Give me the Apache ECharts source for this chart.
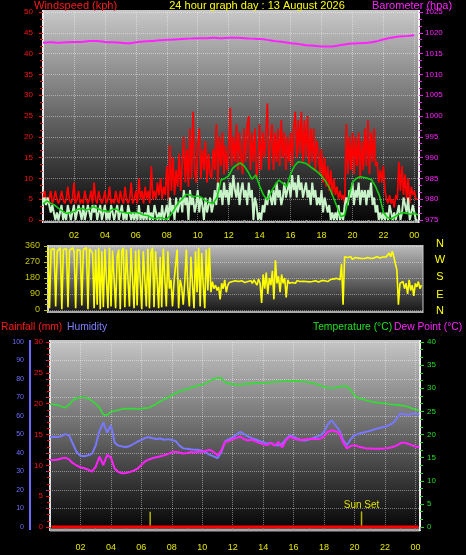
<!DOCTYPE html>
<html><head><meta charset="utf-8">
<script src="https://cdn.jsdelivr.net/npm/echarts@6/dist/echarts.min.js"></script>
<style>html,body{margin:0;padding:0;background:#000;}#c{width:466px;height:555px;}</style>
</head><body><div id="c"></div>
<script>
// ---------- data ----------
const TITLE = '24 hour graph day : 13 August 2026';
const WIND_STEP = 0.1;   // hours between wind samples
const GUST = [
5,5,7,5,4,5,7,4,5,7, 5,4,5,7,5,4,5,8,5,4, 5,9,4,5,7,4,5,4,7,5, 4,5,7,4,9,5,4,7,5,4,
5,7,4,5,8,4,5,4,7,5, 4,7,5,4,8,5,4,5,9,4, 5,7,4,10,5,7,4,8,5,7, 4,13,5,7,5,9,6,10,5,8,
6,13,5,18,7,15,6,12,8,16, 7,14,20,9,17,8,22,10,26,12, 9,18,22,10,17,12,19,9,16,11, 10,17,12,23,9,20,13,21,11,18,
12,17,27,13,20,14,23,12,21,15, 11,22,14,23,25,12,21,14,22,10, 13,23,12,21,15,20,28,12,19,23, 12,21,14,22,13,24,15,21,12,20,
14,21,13,22,26,15,24,16,26,14, 24,15,25,13,22,14,22,12,19,16, 11,17,9,15,8,13,7,12,6,10, 6,8,5,7,5,6,4,23,11,20,
12,21,11,20,13,21,10,19,12,22, 13,24,11,21,14,22,13,14,9,12, 9,13,7,5,4,6,4,5,3,6, 5,14,7,13,6,11,5,10,4,8,
6,7,5];
const SPEED = [
5.4,3.6,5.4,3.6,5.4,3.6,1.8,3.6,1.8,0, 1.8,0,1.8,3.6,0,1.8,0,3.6,1.8,0, 1.8,3.6,0,1.8,3.6,1.8,0,3.6,0,1.8, 3.6,1.8,0,3.6,1.8,3.6,0,1.8,3.6,0,
1.8,3.6,0,1.8,0,3.6,1.8,0,1.8,3.6, 0,1.8,3.6,0,1.8,0,3.6,1.8,0,1.8, 0,1.8,0,3.6,0,1.8,0,1.8,0,3.6, 0,1.8,0,3.6,1.8,0,1.8,0,3.6,0,
1.8,3.6,0,5.4,1.8,3.6,0,5.4,1.8,3.6, 5.4,1.8,7.2,3.6,5.4,0,7.2,3.6,5.4,1.8, 3.6,7.2,1.8,5.4,3.6,0,5.4,1.8,3.6,5.4, 1.8,3.6,7.2,3.6,9,5.4,7.2,3.6,9,5.4,
7.2,3.6,9,5.4,10.8,7.2,5.4,9,3.6,7.2, 9,5.4,7.2,3.6,9,5.4,7.2,0,5.4,3.6, 0,1.8,0,3.6,1.8,5.4,3.6,7.2,5.4,3.6, 7.2,3.6,9,5.4,7.2,3.6,5.4,9,5.4,7.2,
9,5.4,10.8,7.2,9,5.4,10.8,7.2,9,5.4, 7.2,9,5.4,7.2,3.6,9,5.4,7.2,3.6,5.4, 3.6,7.2,1.8,5.4,3.6,1.8,3.6,0,1.8,0, 1.8,0,3.6,0,1.8,0,3.6,5.4,3.6,7.2,
5.4,9,3.6,7.2,5.4,9,3.6,7.2,5.4,7.2, 3.6,7.2,5.4,9,3.6,5.4,1.8,3.6,0,1.8, 0,1.8,0,1.8,0,3.6,1.8,0,1.8,0, 1.8,3.6,0,1.8,5.4,3.6,1.8,5.4,0,1.8,
3.6,1.8,0];
const AVG_STEP = 0.25;
const AVG = [
3.8,4.6,4.0,3.6, 2.8,2.2,1.6,1.8, 2.0,2.6,2.8,2.4, 2.6,3.2,2.8,2.4, 2.2,2.0,2.6,2.6, 2.0,1.8,1.6,1.8,
1.8,1.6,1.2,1.1, 0.6,0.3,0.6,0.4, 0.2,1.2,2.6,4.2, 5.0,6.2,6.0,5.6, 5.8,5.4,4.6,4.2, 4.0,5.4,9.6,10.0,
10.6,12.4,13.2,13.7, 13.0,11.6,9.8,10.8, 8.2,6.0,4.8,6.8, 8.4,9.6,8.8,8.0, 11.0,13.0,14.0,13.8, 13.6,12.9,12.2,11.5,
10.6,9.4,7.8,5.6, 3.2,0.8,1.2,5.2, 9.0,10.0,10.4,10.2, 10.0,9.6,8.0,5.8, 1.8,0.6,0.3,0.8, 1.4,1.8,1.6,1.4,
1.6,1.2];
const BARO_STEP = 0.5;
const BARO = [
1017.6,1017.7,1017.6,1017.7,1017.8,1017.8,1018.0,1018.0,1017.8,1017.7,1017.6,1017.5,
1017.7,1017.9,1018.0,1018.2,1018.3,1018.4,1018.5,1018.6,1018.7,1018.7,1018.8,1018.7,
1018.8,1018.8,1018.7,1018.6,1018.5,1018.3,1018.0,1017.8,1017.5,1017.3,1017.0,1016.9,
1016.7,1016.7,1016.9,1017.2,1017.4,1017.5,1017.6,1017.9,1018.4,1018.8,1019.1,1019.2,1019.4];
const DIR_STEP = 0.1;
const DIR = [
350,10,340,335,345,20,330,340,350,5, 340,330,345,15,335,340,350,330,10,340, 345,335,25,340,330,350,5,345,335,320, 10,340,30,350,5,330,15,345,340,10,
350,20,335,345,10,300,340,5,330,350, 15,340,330,20,350,345,10,335,25,340, 350,5,330,340,20,345,10,320,350,15, 330,340,10,300,15,345,180,20,330,120,
170,20,160,150,340,10,170,130,30,160, 340,120,20,300,150,10,330,100,350,20, 320,140,10,340,110,350,100,160,120,140, 110,130,60,150,120,170,100,140,155,150,
160,150,165,155,160,150,165,160,155,165, 160,155,165,150,170,160,140,175,150,40, 200,120,210,90,180,140,220,60,280,150, 190,100,200,150,180,70,170,150,160,155,
160,150,165,155,160,158,162,155,160,165, 158,162,160,155,165,160,158,162,165,160, 165,170,160,168,172,165,175,170,178,180, 170,260,30,300,310,295,290,300,285,290,
295,288,292,285,290,295,290,288,295,292, 290,295,292,298,300,295,292,300,298,295, 298,300,320,300,330,300,260,225,30,150, 140,160,120,150,90,170,110,140,80,150,
130,160,120,140];
const TH_STEP = 0.25;
const TEMP = [
26.6,26.5,26.4,26.0, 25.8,26.4,27.4,27.9, 28.0,28.0,27.8,27.3, 26.6,25.8,24.3,24.2, 24.9,25.1,25.3,25.5, 25.6,25.6,25.6,25.5,
25.6,25.7,25.8,26.2, 26.7,27.2,27.6,28.0, 28.5,28.9,29.3,29.6, 29.8,30.1,30.4,30.6, 30.8,31.1,31.6,32.0, 32.2,32.2,31.3,31.0,
30.9,30.8,30.8,30.9, 31.0,31.0,31.1,31.2, 31.2,31.2,31.3,31.4, 31.4,31.5,31.5,31.6, 31.6,31.6,31.5,31.4, 31.3,31.1,30.9,30.6,
30.3,30.1,30.0,30.1, 30.3,30.5,30.4,29.6, 28.4,27.9,27.7,27.4, 27.2,27.0,26.9,26.8, 26.7,26.6,26.5,26.4, 26.3,26.2,26.0,25.7,
25.4,25.2];
const HUM = [
48.5,48.8,48.6,49.2, 50.2,49.5,45.0,40.5, 38.5,38.2,38.8,39.5, 44.0,52.0,56.5,51.0, 55.0,45.5,44.0,43.5, 43.2,43.8,45.0,46.2,
47.0,48.2,48.5,48.0, 47.6,47.8,47.2,47.5, 47.0,46.5,44.0,42.5, 42.3,42.0,41.8,41.7, 41.2,40.2,39.0,38.2, 37.2,40.5,46.3,47.5,
48.5,50.0,51.4,50.2, 49.0,48.0,47.3,46.5, 45.8,45.0,45.5,44.3, 44.1,45.0,47.5,49.5, 48.8,47.8,46.9,46.8, 47.3,48.0,48.8,49.5,
51.5,55.5,57.7,55.0, 52.3,47.0,44.2,47.5, 49.6,50.3,51.0,51.4, 52.0,52.6,53.2,53.8, 54.2,55.0,56.0,58.5, 61.3,61.0,60.5,61.3,
61.2,61.0];
const DEW = [
14.5,14.5,14.6,14.8, 15.0,14.6,13.8,13.3, 12.9,12.7,12.4,12.0, 13.0,15.2,13.4,15.6, 15.0,12.6,11.9,11.6, 11.7,11.9,12.2,12.6,
13.4,14.2,14.6,14.9, 15.1,15.3,15.5,15.8, 16.1,16.3,16.1,15.9, 16.0,16.2,16.1,16.3, 16.2,16.5,16.7,16.2, 15.5,16.5,18.4,18.6,
19.0,19.3,19.5,19.0, 18.7,18.9,18.5,18.2, 17.9,17.7,18.2,17.6, 18.4,17.2,18.8,19.5, 19.2,18.9,18.8,18.9, 19.0,19.1,19.0,19.1,
19.6,20.6,20.9,20.7, 20.3,18.3,17.0,17.5, 17.7,17.4,17.2,17.0, 17.0,16.9,16.9,16.9, 17.0,17.1,17.3,17.6, 18.1,18.3,18.0,17.7,
17.4,17.3];
const RAIN_TIMES = [0.1, 24.2];
const RAIN = [0, 0];
const SUN_RISE = 6.58, SUN_SET = 20.46;
const COMPASS = ['N','W','S','E','N'];

// ---------- helpers ----------
const pairs = (arr, step) => arr.map((v, i) => [+(i * step).toFixed(3), v]);
const hourFmt = v => { const r = Math.round(v); if (v <= 0 || Math.abs(v - r) > 1e-6 || r % 2) return ''; const h = r % 24; return (h < 10 ? '0' : '') + h; };
const plainFmt = v => String(v);
const FONT = '"Liberation Sans", Arial, sans-serif';
const grad = (a, b) => ({type:'linear', x:0, y:0, x2:0, y2:1, colorStops:[{offset:0,color:a},{offset:1,color:b}]});
const dotted = {show:true, lineStyle:{color:'rgba(255,255,255,0.42)', type:'dotted', width:1}};

function xAx(grid, max, labels, margin) {
  return {type:'value', gridIndex:grid, min:0, max:max, interval:2,
    axisLine:{show:false},
    axisTick:{show:labels, length:3, lineStyle:{color:'#8c8c8c'}},
    minorTick:{show:labels, splitNumber:2, length:3, lineStyle:{color:'#8c8c8c'}},
    axisLabel:{show:labels, formatter:hourFmt, color:'#e6e600', fontSize:9, margin:margin, fontFamily:FONT},
    splitLine: labels ? dotted : {show:false}};
}
function yAx(o) {
  return Object.assign({type:'value', axisLine:{show:false},
    axisTick:{show:true, length:4, lineStyle:{color:o.color}},
    minorTick:{show:!!o.minor, splitNumber:o.minor||2, length:3, lineStyle:{color:o.color}},
    axisLabel:{color:o.color, fontSize:o.fs||8, margin:o.margin, fontFamily:FONT, formatter:plainFmt},
    splitLine: o.split ? dotted : {show:false}}, o.base);
}

const chart = echarts.init(document.getElementById('c'), null, {renderer:'canvas'});
const txt = (t, x, y, color, size, align) => ({type:'text', x:x, y:y, z:20,
  style:{text:t, fill:color, font:size + 'px ' + FONT, textAlign:align||'left', textVerticalAlign:'middle'}});
const hline = (x1, x2, y, c, w) => ({type:'line', z:-5, shape:{x1:x1, y1:y, x2:x2, y2:y}, style:{stroke:c, lineWidth:w}});
const vline = (x, y1, y2, c, w) => ({type:'line', z:-5, shape:{x1:x, y1:y1, x2:x, y2:y2}, style:{stroke:c, lineWidth:w}});

const graphics = [
  {type:'rect', z:-10, shape:{x:43, y:10, width:376, height:213}, style:{fill:grad('#c8c8c8', '#040404')}},
  {type:'rect', z:-10, shape:{x:48, y:245, width:375, height:68}, style:{fill:grad('#bcbcbc', '#141414')}},
  {type:'rect', z:-10, shape:{x:50, y:340, width:370, height:191}, style:{fill:grad('#c6c6c6', '#030303')}},
  vline(43, 10, 223, '#e8e8e8', 2), hline(43, 419, 222, '#b4b4b4', 2), vline(419, 10, 223, '#f2f2f2', 2),
  vline(48, 245, 313, '#d4d4d4', 2), hline(48, 423, 312, '#a8a8a8', 2), vline(423, 245, 313, '#c8c8c8', 1),
  vline(50, 340, 531, '#dadada', 2), hline(50, 420, 530, '#a8a8a8', 3), vline(420, 340, 531, '#f2f2f2', 2),
  vline(30, 340, 530, '#6a6aff', 2),
  txt('Windspeed (kph)', 34, 6, '#ff1a1a', 11),
  txt(TITLE, 257, 6, '#ffff00', 11, 'center'),
  txt('Barometer (hpa)', 372, 6, '#ff22ff', 11),
  txt('Rainfall (mm)', 1, 327, '#ff1a1a', 10.3),
  txt('Humidity', 67, 327, '#8080ff', 10.3),
  txt('Temperature (°C)', 313, 327, '#22e022', 10.3),
  txt('Dew Point (°C)', 394, 327, '#ff22ff', 10.3)
];
const compassY = [244, 260, 277, 295, 311];
COMPASS.forEach((c, i) => graphics.push(txt(c, 440, compassY[i], '#ffff00', 11, 'center')));

const option = {
  animation:false,
  backgroundColor:'#000',
  textStyle:{fontFamily:FONT},
  grid:[
    {left:43, top:12, width:376, height:208},
    {left:48, top:246, width:375, height:64},
    {left:50, top:342, width:370, height:185}
  ],
  xAxis:[ xAx(0, 24.3, true, 11), xAx(1, 24.4, false, 0), xAx(2, 24.3, true, 16) ],
  yAxis:[
    yAx({color:'#ff1010', margin:10, minor:3, split:true, base:{gridIndex:0, min:0, max:50, interval:5, position:'left'}}),
    yAx({color:'#ff22ff', margin:6, minor:3, base:{gridIndex:0, min:975, max:1025, interval:5, position:'right'}}),
    yAx({color:'#c4c400', margin:8, fs:9, minor:3, split:true, base:{gridIndex:1, min:0, max:360, interval:90, position:'left'}}),
    yAx({color:'#7070ff', margin:6, fs:7, split:true, base:{gridIndex:2, min:0, max:100, interval:10, position:'left', offset:20}}),
    yAx({color:'#ff1010', margin:7, minor:5, base:{gridIndex:2, min:0, max:30, interval:5, position:'left'}}),
    yAx({color:'#22dd22', margin:7, minor:3, base:{gridIndex:2, min:0, max:40, interval:5, position:'right'}})
  ],
  series:[
    {type:'line', name:'Gust', xAxisIndex:0, yAxisIndex:0, data:pairs(GUST, WIND_STEP), step:'start', showSymbol:false, lineStyle:{color:'#ff0000', width:1.7}},
    {type:'line', name:'Speed', xAxisIndex:0, yAxisIndex:0, data:pairs(SPEED, WIND_STEP), step:'start', showSymbol:false, lineStyle:{color:'#c8f2c8', width:2}},
    {type:'line', name:'Average', xAxisIndex:0, yAxisIndex:0, data:pairs(AVG, AVG_STEP), showSymbol:false, lineStyle:{color:'#10d010', width:1.6}},
    {type:'line', name:'Barometer', xAxisIndex:0, yAxisIndex:1, data:pairs(BARO, BARO_STEP), showSymbol:false, smooth:0.3, lineStyle:{color:'#ff22ff', width:2}},
    {type:'line', name:'Direction', xAxisIndex:1, yAxisIndex:2, data:pairs(DIR, DIR_STEP), showSymbol:false, lineStyle:{color:'#ffff00', width:1.6}},
    {type:'line', name:'Rainfall', xAxisIndex:2, yAxisIndex:4, data:RAIN_TIMES.map((t, i) => [t, RAIN[i]]), showSymbol:false, lineStyle:{color:'#ff0000', width:3}},
    {type:'line', name:'Humidity', xAxisIndex:2, yAxisIndex:3, data:pairs(HUM, TH_STEP), showSymbol:false, lineStyle:{color:'#7878ff', width:2}},
    {type:'line', name:'Temperature', xAxisIndex:2, yAxisIndex:5, data:pairs(TEMP, TH_STEP), showSymbol:false, lineStyle:{color:'#30e030', width:1.6}},
    {type:'line', name:'Dew Point', xAxisIndex:2, yAxisIndex:5, data:pairs(DEW, TH_STEP), showSymbol:false, lineStyle:{color:'#ff22ff', width:2}},
    {type:'line', name:'Sun Rise', xAxisIndex:2, yAxisIndex:5, data:[[SUN_RISE, 0.3], [SUN_RISE, 3.3]], showSymbol:false, lineStyle:{color:'#b4b400', width:1.5}},
    {type:'line', name:'Sun Set', xAxisIndex:2, yAxisIndex:5, data:[[SUN_SET, 0.3], [SUN_SET, 3.3]], showSymbol:false, lineStyle:{color:'#b4b400', width:1.5}},
    {type:'scatter', name:'Sun Set label', xAxisIndex:2, yAxisIndex:5, data:[[SUN_SET, 3.3]], symbolSize:1, itemStyle:{color:'#b4b400', opacity:1},
      label:{show:true, position:'top', distance:1, formatter:'Sun Set', color:'#e0e000', fontSize:10, fontFamily:FONT, opacity:1}}
  ],
  graphic: graphics
};
chart.setOption(option);
</script>
</body></html>
